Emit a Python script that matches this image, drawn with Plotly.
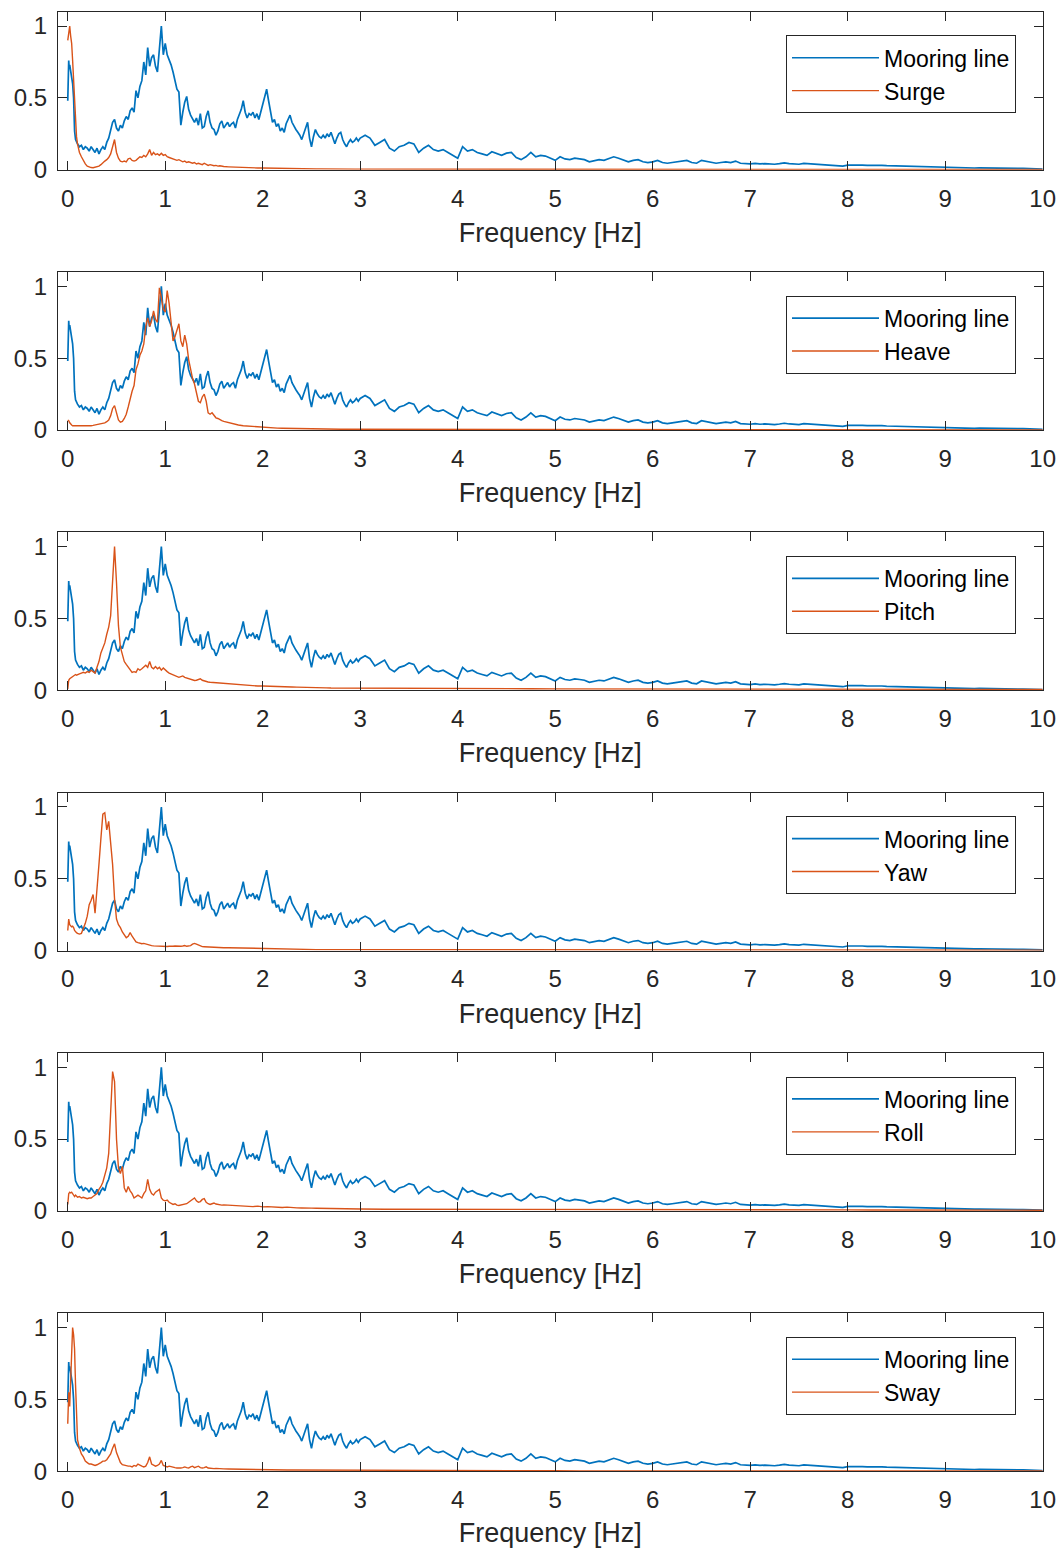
import numpy as np
import plotly.graph_objects as go

# ---------------- data ----------------
# Mooring line spectrum (same in every panel)
moor_f_a = [0.0, 0.005, 0.01, 0.015, 0.02, 0.03, 0.04, 0.05, 0.06, 0.065, 0.07, 0.08, 0.09]
moor_v_a = [0.48, 0.62, 0.76, 0.70, 0.73, 0.68, 0.64, 0.60, 0.50, 0.36, 0.27, 0.21, 0.19]
moor_v_b = [  # 0.10 .. 3.00 step 0.02
    0.18, 0.16, 0.17, 0.14, 0.16, 0.15, 0.13, 0.16, 0.14, 0.12,
    0.15, 0.11, 0.14, 0.16, 0.14, 0.19, 0.22, 0.27, 0.33, 0.35,
    0.29, 0.27, 0.31, 0.29, 0.34, 0.37, 0.35, 0.41, 0.43, 0.40,
    0.55, 0.50, 0.58, 0.62, 0.75, 0.66, 0.85, 0.72, 0.78, 0.80,
    0.72, 0.68, 0.82, 1.00, 0.80, 0.88, 0.80, 0.77, 0.73, 0.68,
    0.61, 0.56, 0.54, 0.31, 0.40, 0.47, 0.51, 0.42, 0.38, 0.35,
    0.33, 0.36, 0.31, 0.39, 0.29, 0.30, 0.37, 0.41, 0.33, 0.29,
    0.28, 0.24, 0.27, 0.32, 0.34, 0.29, 0.31, 0.33, 0.30, 0.32,
    0.33, 0.29, 0.35, 0.39, 0.42, 0.48, 0.40, 0.36, 0.39, 0.38,
    0.40, 0.36, 0.39, 0.35, 0.40, 0.45, 0.50, 0.56, 0.48, 0.40,
    0.33, 0.35, 0.30, 0.32, 0.27, 0.29, 0.26, 0.32, 0.35, 0.38,
    0.33, 0.30, 0.28, 0.26, 0.24, 0.21, 0.25, 0.28, 0.33, 0.22,
    0.16, 0.23, 0.28, 0.25, 0.23, 0.22, 0.24, 0.22, 0.25, 0.23,
    0.26, 0.22, 0.18, 0.22, 0.25, 0.26, 0.21, 0.18, 0.16, 0.19,
    0.21, 0.19, 0.20, 0.22, 0.20, 0.22,
]
moor_v_c = [  # 3.05 .. 10.00 step 0.05
    0.24, 0.22, 0.17, 0.19, 0.21, 0.15, 0.13, 0.16, 0.17, 0.19,
    0.18, 0.12, 0.15, 0.17, 0.14, 0.13, 0.14, 0.12, 0.10, 0.08,
    0.16, 0.13, 0.14, 0.12, 0.11, 0.10, 0.125, 0.11, 0.10, 0.115,
    0.12, 0.085, 0.07, 0.09, 0.12, 0.09, 0.10, 0.095, 0.08, 0.065,
    0.09, 0.075, 0.07, 0.08, 0.075, 0.07, 0.055, 0.065, 0.07, 0.065,
    0.075, 0.09, 0.08, 0.065, 0.055, 0.065, 0.07, 0.055, 0.05, 0.055,
    0.065, 0.05, 0.045, 0.05, 0.055, 0.06, 0.065, 0.05, 0.045, 0.065,
    0.06, 0.05, 0.045, 0.05, 0.055, 0.05, 0.06, 0.045, 0.042, 0.04,
    0.044, 0.04, 0.042, 0.04, 0.038, 0.042, 0.047, 0.042, 0.04, 0.038,
    0.044, 0.042, 0.038, 0.04, 0.036, 0.034, 0.032, 0.03, 0.025, 0.032,
    0.033, 0.031, 0.032, 0.03, 0.031, 0.029, 0.03, 0.028, 0.027, 0.026,
    0.025, 0.027, 0.024, 0.022, 0.02, 0.019, 0.018, 0.016, 0.015, 0.015,
    0.014, 0.015, 0.013, 0.014, 0.013, 0.012, 0.013, 0.012, 0.011, 0.012,
    0.011, 0.010, 0.011, 0.010, 0.009, 0.009, 0.008, 0.007, 0.006, 0.005,
]

# Motion spectra: common frequency grid
# g1: 0.00..0.09 (0.01), g2: 0.10..1.60 (0.02), g3: 1.65..3.00 (0.05), g4: 3.25..10 (0.25)
surge = (
    [0.90, 0.98, 1.00, 0.93, 0.88, 0.76, 0.61, 0.47, 0.34, 0.23]
    + [0.18, 0.12, 0.09, 0.06, 0.04, 0.025, 0.018, 0.015, 0.014, 0.016,
       0.02, 0.025, 0.035, 0.05, 0.06, 0.07, 0.085, 0.11, 0.17, 0.21,
       0.12, 0.08, 0.06, 0.055, 0.06, 0.055, 0.075, 0.08, 0.065, 0.06,
       0.065, 0.075, 0.09, 0.085, 0.10, 0.09, 0.11, 0.14, 0.10, 0.12,
       0.105, 0.11, 0.10, 0.115, 0.10, 0.105, 0.09, 0.085, 0.08, 0.075,
       0.07, 0.065, 0.07, 0.06, 0.055, 0.06, 0.05, 0.055, 0.05, 0.045,
       0.05, 0.04, 0.045, 0.04, 0.035, 0.045, 0.035, 0.03, 0.035, 0.03,
       0.028, 0.03, 0.025, 0.027, 0.022, 0.022]
    + [0.02, 0.018, 0.017, 0.015, 0.014, 0.013, 0.012, 0.012, 0.011, 0.01,
       0.01, 0.009, 0.009, 0.008, 0.008, 0.007, 0.007, 0.006, 0.006, 0.006,
       0.005, 0.005, 0.005, 0.005, 0.004, 0.004, 0.004, 0.004]
    + [0.004, 0.004, 0.003, 0.003, 0.003, 0.003, 0.003, 0.003, 0.002, 0.002,
       0.002, 0.002, 0.002, 0.002, 0.002, 0.002, 0.002, 0.002, 0.002, 0.001,
       0.001, 0.001, 0.001, 0.001, 0.001, 0.001, 0.001, 0.001]
)
heave = (
    [0.07, 0.065, 0.05, 0.04, 0.035, 0.03, 0.03, 0.028, 0.03, 0.028]
    + [0.027, 0.03, 0.025, 0.025, 0.028, 0.026, 0.028, 0.03, 0.032, 0.035,
       0.038, 0.04, 0.042, 0.048, 0.05, 0.058, 0.07, 0.10, 0.15, 0.17,
       0.11, 0.07, 0.055, 0.06, 0.08, 0.11, 0.16, 0.22, 0.27, 0.31,
       0.42, 0.46, 0.52, 0.55, 0.60, 0.72, 0.78, 0.72, 0.76, 0.83,
       0.77, 0.75, 0.99, 0.92, 0.84, 0.82, 0.97, 0.88, 0.74, 0.62,
       0.65, 0.70, 0.74, 0.62, 0.58, 0.66, 0.60, 0.49, 0.42, 0.36,
       0.32, 0.26, 0.20, 0.19, 0.23, 0.25, 0.20, 0.12, 0.11, 0.12,
       0.10, 0.085, 0.08, 0.07, 0.065, 0.06]
    + [0.05, 0.042, 0.035, 0.03, 0.027, 0.024, 0.02, 0.018, 0.016, 0.015,
       0.013, 0.012, 0.011, 0.01, 0.009, 0.009, 0.008, 0.008, 0.007, 0.007,
       0.006, 0.006, 0.006, 0.005, 0.005, 0.005, 0.005, 0.004]
    + [0.004, 0.004, 0.003, 0.003, 0.003, 0.003, 0.003, 0.003, 0.003, 0.002,
       0.002, 0.002, 0.002, 0.002, 0.002, 0.002, 0.002, 0.002, 0.002, 0.002,
       0.001, 0.001, 0.001, 0.001, 0.001, 0.001, 0.001, 0.001]
)
pitch = (
    [0.01, 0.07, 0.08, 0.085, 0.09, 0.095, 0.10, 0.10, 0.11, 0.105]
    + [0.11, 0.115, 0.12, 0.125, 0.12, 0.13, 0.125, 0.14, 0.13, 0.12,
       0.16, 0.20, 0.26, 0.30, 0.33, 0.39, 0.44, 0.52, 0.80, 1.00,
       0.75, 0.45, 0.30, 0.24, 0.20, 0.18, 0.16, 0.14, 0.125, 0.13,
       0.125, 0.15, 0.14, 0.15, 0.16, 0.175, 0.16, 0.20, 0.16, 0.15,
       0.165, 0.15, 0.16, 0.14, 0.155, 0.14, 0.13, 0.12, 0.115, 0.105,
       0.10, 0.095, 0.09, 0.095, 0.10, 0.09, 0.085, 0.08, 0.075, 0.07,
       0.068, 0.07, 0.075, 0.08, 0.07, 0.065, 0.06, 0.058, 0.056, 0.055,
       0.052, 0.05, 0.048, 0.046, 0.045, 0.045]
    + [0.043, 0.04, 0.038, 0.036, 0.034, 0.033, 0.03, 0.03, 0.028, 0.027,
       0.026, 0.025, 0.024, 0.023, 0.022, 0.022, 0.021, 0.02, 0.019, 0.018,
       0.017, 0.016, 0.016, 0.015, 0.015, 0.014, 0.014, 0.013]
    + [0.013, 0.012, 0.012, 0.012, 0.011, 0.011, 0.011, 0.01, 0.01, 0.01,
       0.01, 0.01, 0.009, 0.009, 0.009, 0.009, 0.009, 0.008, 0.008, 0.008,
       0.008, 0.007, 0.007, 0.007, 0.007, 0.006, 0.006, 0.006]
)
yaw = (
    [0.14, 0.22, 0.18, 0.17, 0.165, 0.17, 0.16, 0.14, 0.13, 0.125]
    + [0.12, 0.115, 0.12, 0.15, 0.19, 0.24, 0.32, 0.35, 0.39, 0.26,
       0.41, 0.60, 0.78, 0.95, 0.96, 0.84, 0.90, 0.77, 0.60, 0.36,
       0.22, 0.18, 0.16, 0.13, 0.11, 0.09, 0.10, 0.125, 0.10, 0.075,
       0.06, 0.055, 0.05, 0.048, 0.05, 0.045, 0.04, 0.035, 0.035, 0.033,
       0.032, 0.03, 0.032, 0.03, 0.028, 0.03, 0.029, 0.03, 0.028, 0.03,
       0.032, 0.03, 0.028, 0.03, 0.032, 0.035, 0.03, 0.032, 0.035, 0.045,
       0.05, 0.045, 0.038, 0.03, 0.028, 0.027, 0.026, 0.025, 0.024, 0.023,
       0.022, 0.022, 0.021, 0.02, 0.021, 0.02]
    + [0.02, 0.019, 0.018, 0.017, 0.016, 0.015, 0.015, 0.014, 0.013, 0.012,
       0.012, 0.011, 0.01, 0.01, 0.009, 0.009, 0.008, 0.008, 0.007, 0.007,
       0.007, 0.006, 0.006, 0.006, 0.005, 0.005, 0.005, 0.005]
    + [0.005, 0.004, 0.004, 0.004, 0.004, 0.004, 0.003, 0.003, 0.003, 0.003,
       0.003, 0.003, 0.003, 0.003, 0.002, 0.002, 0.002, 0.002, 0.002, 0.002,
       0.002, 0.002, 0.002, 0.002, 0.002, 0.002, 0.002, 0.002]
)
roll = (
    [0.045, 0.12, 0.13, 0.125, 0.13, 0.12, 0.11, 0.10, 0.11, 0.10]
    + [0.095, 0.10, 0.09, 0.095, 0.09, 0.085, 0.09, 0.09, 0.10, 0.11,
       0.12, 0.15, 0.17, 0.20, 0.25, 0.30, 0.40, 0.75, 0.97, 0.90,
       0.50, 0.30, 0.26, 0.31, 0.16, 0.13, 0.17, 0.14, 0.12, 0.09,
       0.10, 0.11, 0.10, 0.09, 0.12, 0.14, 0.22, 0.15, 0.12, 0.11,
       0.13, 0.14, 0.15, 0.09, 0.075, 0.07, 0.075, 0.06, 0.055, 0.045,
       0.05, 0.04, 0.038, 0.04, 0.042, 0.045, 0.05, 0.06, 0.07, 0.08,
       0.09, 0.07, 0.06, 0.065, 0.08, 0.085, 0.06, 0.05, 0.045, 0.05,
       0.055, 0.048, 0.045, 0.042, 0.04, 0.042]
    + [0.04, 0.036, 0.038, 0.035, 0.032, 0.03, 0.033, 0.028, 0.03, 0.027,
       0.025, 0.024, 0.026, 0.022, 0.021, 0.02, 0.022, 0.019, 0.018, 0.017,
       0.018, 0.016, 0.015, 0.015, 0.016, 0.014, 0.013, 0.013]
    + [0.012, 0.012, 0.011, 0.011, 0.01, 0.01, 0.01, 0.01, 0.009, 0.009,
       0.009, 0.009, 0.008, 0.008, 0.008, 0.008, 0.007, 0.007, 0.007, 0.007,
       0.006, 0.006, 0.006, 0.006, 0.005, 0.005, 0.005, 0.005]
)
sway = (
    [0.33, 0.55, 0.45, 0.60, 0.85, 1.00, 0.95, 0.85, 0.60, 0.32]
    + [0.22, 0.16, 0.12, 0.10, 0.07, 0.06, 0.05, 0.05, 0.045, 0.04,
       0.045, 0.05, 0.06, 0.07, 0.07, 0.08, 0.10, 0.12, 0.16, 0.19,
       0.13, 0.09, 0.06, 0.045, 0.04, 0.04, 0.035, 0.035, 0.03, 0.04,
       0.035, 0.05, 0.04, 0.035, 0.03, 0.035, 0.06, 0.10, 0.05, 0.04,
       0.035, 0.04, 0.05, 0.075, 0.04, 0.035, 0.03, 0.035, 0.03, 0.025,
       0.025, 0.022, 0.02, 0.022, 0.025, 0.03, 0.025, 0.022, 0.03, 0.035,
       0.025, 0.03, 0.035, 0.025, 0.022, 0.025, 0.03, 0.022, 0.02, 0.02,
       0.018, 0.02, 0.018, 0.017, 0.016, 0.016]
    + [0.015, 0.014, 0.014, 0.013, 0.012, 0.012, 0.011, 0.01, 0.01, 0.01,
       0.009, 0.009, 0.008, 0.008, 0.008, 0.007, 0.007, 0.007, 0.006, 0.006,
       0.006, 0.006, 0.005, 0.005, 0.005, 0.005, 0.005, 0.004]
    + [0.004, 0.004, 0.003, 0.003, 0.003, 0.003, 0.003, 0.003, 0.002, 0.002,
       0.002, 0.002, 0.002, 0.002, 0.002, 0.002, 0.002, 0.002, 0.002, 0.001,
       0.001, 0.001, 0.001, 0.001, 0.001, 0.001, 0.001, 0.001]
)

motion_names = ["Surge", "Heave", "Pitch", "Yaw", "Roll", "Sway"]
motion_values = [surge, heave, pitch, yaw, roll, sway]

x_ticks = [0, 1, 2, 3, 4, 5, 6, 7, 8, 9, 10]
y_ticks = [0, 0.5, 1]
y_tick_text = ["0", "0.5", "1"]

# ---------------- frequency grids ----------------
moor_f = np.concatenate([moor_f_a,
                         np.linspace(0.10, 3.00, len(moor_v_b)),
                         np.linspace(3.05, 10.0, len(moor_v_c))])
moor_v = moor_v_a + moor_v_b + moor_v_c
mot_f = np.concatenate([np.linspace(0.0, 0.09, 10),
                        np.linspace(0.10, 1.60, 76),
                        np.linspace(1.65, 3.00, 28),
                        np.linspace(3.25, 10.0, 28)])
for v in motion_values:
    assert len(v) == len(mot_f), len(v)

# ---------------- layout geometry ----------------
W, H = 1061, 1548
BLUE = "#0072BD"
ORANGE = "#D95319"
AX = "#262626"
FONT = "Liberation Sans, Arial, sans-serif"

x_left, x_right = 58.0, 1042.7
panel_top0, panel_step, panel_h = 11.7, 260.3, 158.0

fig = go.Figure()
layout = dict(
    width=W, height=H,
    margin=dict(l=0, r=0, t=0, b=0, autoexpand=False),
    paper_bgcolor="white", plot_bgcolor="white",
    font=dict(family=FONT, color=AX, size=22),
)

for i, (name, vals) in enumerate(zip(motion_names, motion_values)):
    k = "" if i == 0 else str(i + 1)
    leg = "legend" if i == 0 else f"legend{i + 1}"
    fig.add_trace(go.Scatter(x=moor_f, y=moor_v, mode="lines", name="Mooring line",
                             line=dict(color=BLUE, width=1.7),
                             xaxis="x" + k, yaxis="y" + k, legend=leg))
    fig.add_trace(go.Scatter(x=mot_f, y=vals, mode="lines", name=name,
                             line=dict(color=ORANGE, width=1.4),
                             xaxis="x" + k, yaxis="y" + k, legend=leg))
    top = panel_top0 + panel_step * i
    bot = top + panel_h
    dom_y = [1 - bot / H, 1 - top / H]
    layout["xaxis" + k] = dict(
        domain=[x_left / W, x_right / W], anchor="y" + k,
        range=[-0.1, 10], tickvals=x_ticks, automargin=False,
        showline=True, mirror="ticks", linecolor=AX, linewidth=1,
        ticks="inside", ticklen=9, tickcolor=AX, tickwidth=1,
        showgrid=False, zeroline=False,
        tickfont=dict(size=24, color=AX, family=FONT),
        ticklabelstandoff=7,
        title=dict(text="Frequency [Hz]", font=dict(size=27, color=AX, family=FONT), standoff=12),
    )
    layout["yaxis" + k] = dict(
        domain=dom_y, anchor="x" + k,
        range=[0, 1.1], tickvals=y_ticks, ticktext=y_tick_text, automargin=False,
        showline=True, mirror="ticks", linecolor=AX, linewidth=1,
        ticks="inside", ticklen=9, tickcolor=AX, tickwidth=1,
        showgrid=False, zeroline=False,
        tickfont=dict(size=24, color=AX, family=FONT),
        ticklabelstandoff=5,
    )
    layout[leg] = dict(
        x=786 / W, y=1 - (top + 23.6) / H, xanchor="left", yanchor="top",
        bgcolor="white", bordercolor=AX, borderwidth=1,
        font=dict(size=23, color="black", family=FONT),
        itemwidth=87, tracegroupgap=0,
    )

fig.update_layout(**layout)
fig.write_html(
    "out.html",
    config={"displayModeBar": False},
    post_script="document.body.style.margin='0';"
                "document.documentElement.style.overflow='hidden';",
)
